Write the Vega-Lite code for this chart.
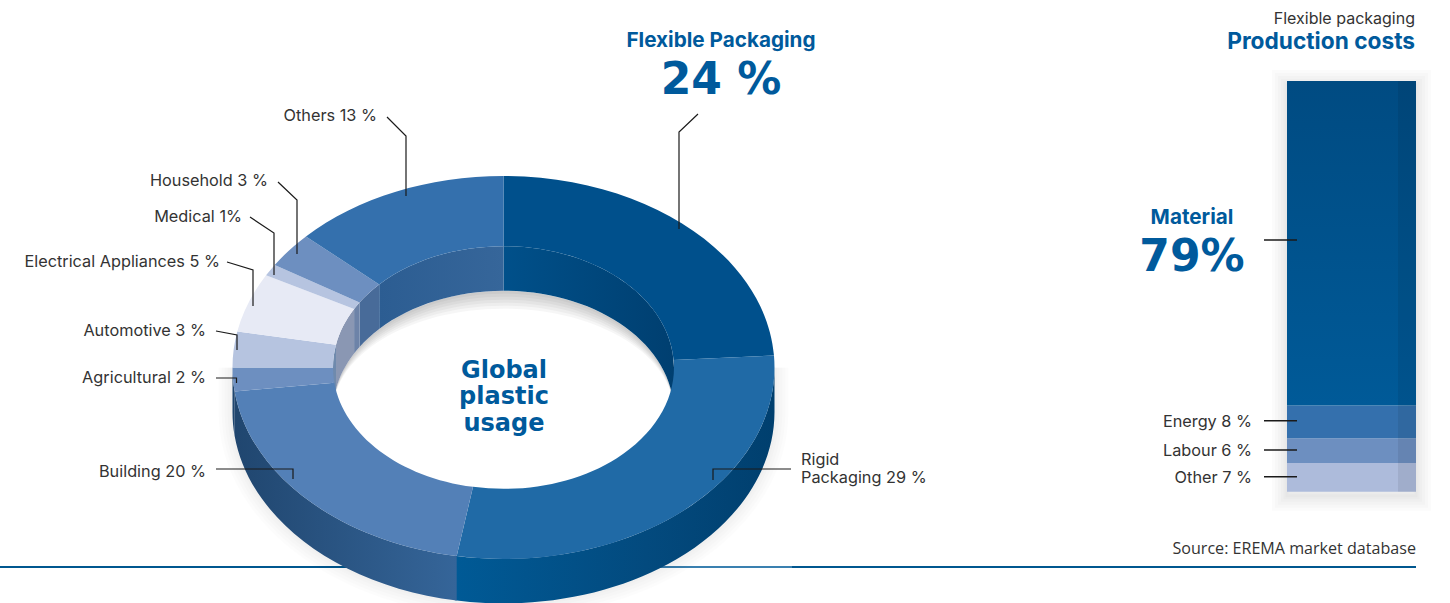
{
"$schema":"https://vega.github.io/schema/vega-lite/v6.json",
"width":1450,"height":603,"padding":0,"autosize":{"type":"none"},"background":"white",
"config":{"view":{"stroke":null},"axis":{"disable":true}},
"resolve":{"scale":{"y":"independent","color":"independent"}},
"layer":[
{"layer":[
 {"data":{"values":[{"w":30},{"w":24},{"w":18},{"w":12},{"w":7},{"w":3}]},"mark":{"type":"rect","fill":null,"stroke":"#000","strokeOpacity":0.014},"encoding":{"x":{"datum":1287,"type":"quantitative","scale":{"domain":[0,1450]}},"x2":{"datum":1416},"y":{"datum":-1,"type":"quantitative","scale":{"domain":[-27.1,119.72]}},"y2":{"datum":99},"strokeWidth":{"field":"w","type":"quantitative","scale":null}}},
 {"data":{"values":[{"item":"Other","value":7,"rank":1},{"item":"Labour","value":6,"rank":2},{"item":"Energy","value":8,"rank":3},{"item":"Material","value":79,"rank":4}]},
  "transform":[{"stack":"value","sort":[{"field":"rank","order":"ascending"}],"as":["v0","v1"]}],
  "mark":{"type":"rect"},"encoding":{
   "x":{"datum":1287,"type":"quantitative","scale":{"domain":[0,1450]}},"x2":{"datum":1416},
   "y":{"field":"v0","type":"quantitative","scale":{"domain":[-27.1,119.72]}},"y2":{"field":"v1"},
   "color":{"field":"item","type":"nominal","legend":null,"scale":{"domain":["Material","Energy","Labour","Other"],"range":[{"signal":"{gradient:'linear',x1:0,y1:0,x2:0,y2:1,stops:[{offset:0,color:'#004b82'},{offset:1,color:'#005a98'}]}"},"#3470ad","#6d8fc0","#adbbdb"]}}}},
 {"data":{"values":[{"band":"side"}]},"mark":{"type":"rect","color":"#000","opacity":0.07},"encoding":{"x":{"datum":1398,"type":"quantitative","scale":{"domain":[0,1450]}},"x2":{"datum":1416},"y":{"datum":0,"type":"quantitative","scale":{"domain":[-27.1,119.72]}},"y2":{"datum":100}}}
 ]},
{"layer":[
 {"data":{"values":[{"x":0,"x2":660},{"x":792,"x2":1416}]},"mark":{"type":"rule","color":"#00578f","strokeWidth":2},"encoding":{"x":{"field":"x","type":"quantitative","scale":{"domain":[0,1450]}},"x2":{"field":"x2"},"y":{"datum":567,"type":"quantitative","scale":{"domain":[603,0]}}}},
 {"data":{"values":[{"x":660,"x2":792}]},"mark":{"type":"rule","color":"#3a80b0","strokeWidth":2},"encoding":{"x":{"field":"x","type":"quantitative","scale":{"domain":[0,1450]}},"x2":{"field":"x2"},"y":{"datum":567,"type":"quantitative","scale":{"domain":[603,0]}}}},
 {"data":{"values":[{"w":28},{"w":22},{"w":16},{"w":10},{"w":5}]},"mark":{"type":"point","size":4,"opacity":1,"filled":false,"fill":null,"stroke":"#000","strokeOpacity":0.012,"shape":"M 271 0 A 271 191.5 0 0 1 -271 0 L -271 44.5 A 271 191.5 0 0 0 271 44.5 Z"},"encoding":{"x":{"datum":503.5,"type":"quantitative","scale":{"domain":[0,1450]}},"y":{"datum":367.5,"type":"quantitative","scale":{"domain":[603,0]}},"strokeWidth":{"field":"w","type":"quantitative","scale":null}}},
 {"data":{"values":[{"shadow":"hole"}]},"mark":{"type":"point","size":4,"opacity":0.035,"filled":true,"color":"#000","shape":"M -170.5 44.5 A 170.5 121.3 0 0 1 170.5 44.5 A 170.5 103.3 0 0 0 -170.5 44.5 Z"},"encoding":{"x":{"datum":503.5,"type":"quantitative","scale":{"domain":[0,1450]}},"y":{"datum":367.5,"type":"quantitative","scale":{"domain":[603,0]}}}},
 {"data":{"values":[{"shadow":"hole"}]},"mark":{"type":"point","size":4,"opacity":0.035,"filled":true,"color":"#000","shape":"M -170.5 44.5 A 170.5 121.3 0 0 1 170.5 44.5 A 170.5 106.3 0 0 0 -170.5 44.5 Z"},"encoding":{"x":{"datum":503.5,"type":"quantitative","scale":{"domain":[0,1450]}},"y":{"datum":367.5,"type":"quantitative","scale":{"domain":[603,0]}}}},
 {"data":{"values":[{"shadow":"hole"}]},"mark":{"type":"point","size":4,"opacity":0.035,"filled":true,"color":"#000","shape":"M -170.5 44.5 A 170.5 121.3 0 0 1 170.5 44.5 A 170.5 109.3 0 0 0 -170.5 44.5 Z"},"encoding":{"x":{"datum":503.5,"type":"quantitative","scale":{"domain":[0,1450]}},"y":{"datum":367.5,"type":"quantitative","scale":{"domain":[603,0]}}}},
 {"data":{"values":[{"shadow":"hole"}]},"mark":{"type":"point","size":4,"opacity":0.035,"filled":true,"color":"#000","shape":"M -170.5 44.5 A 170.5 121.3 0 0 1 170.5 44.5 A 170.5 112.3 0 0 0 -170.5 44.5 Z"},"encoding":{"x":{"datum":503.5,"type":"quantitative","scale":{"domain":[0,1450]}},"y":{"datum":367.5,"type":"quantitative","scale":{"domain":[603,0]}}}},
 {"data":{"values":[{"shadow":"hole"}]},"mark":{"type":"point","size":4,"opacity":0.035,"filled":true,"color":"#000","shape":"M -170.5 44.5 A 170.5 121.3 0 0 1 170.5 44.5 A 170.5 115.3 0 0 0 -170.5 44.5 Z"},"encoding":{"x":{"datum":503.5,"type":"quantitative","scale":{"domain":[0,1450]}},"y":{"datum":367.5,"type":"quantitative","scale":{"domain":[603,0]}}}},
 {"data":{"values":[{"shadow":"hole"}]},"mark":{"type":"point","size":4,"opacity":0.035,"filled":true,"color":"#000","shape":"M -170.5 44.5 A 170.5 121.3 0 0 1 170.5 44.5 A 170.5 118.3 0 0 0 -170.5 44.5 Z"},"encoding":{"x":{"datum":503.5,"type":"quantitative","scale":{"domain":[0,1450]}},"y":{"datum":367.5,"type":"quantitative","scale":{"domain":[603,0]}}}},
 {"data":{"values":[
  {"part":"Rigid outer wall","segment":"Rigid Packaging","share":29},
  {"part":"Building outer wall","segment":"Building","share":20},
  {"part":"Agricultural outer wall","segment":"Agricultural","share":2},
  {"part":"Flexible inner wall","segment":"Flexible Packaging","share":24},
  {"part":"Others inner wall","segment":"Others","share":13},
  {"part":"Household inner wall","segment":"Household","share":3},
  {"part":"Medical inner wall","segment":"Medical","share":1},
  {"part":"Electrical inner wall","segment":"Electrical Appliances","share":5},
  {"part":"Automotive inner wall","segment":"Automotive","share":3},
  {"part":"Flexible top","segment":"Flexible Packaging","share":24},
  {"part":"Rigid top","segment":"Rigid Packaging","share":29},
  {"part":"Building top","segment":"Building","share":20},
  {"part":"Agricultural top","segment":"Agricultural","share":2},
  {"part":"Automotive top","segment":"Automotive","share":3},
  {"part":"Electrical top","segment":"Electrical Appliances","share":5},
  {"part":"Medical top","segment":"Medical","share":1},
  {"part":"Household top","segment":"Household","share":3},
  {"part":"Others top","segment":"Others","share":13}
 ]},
 "mark":{"type":"point","size":4,"filled":true,"opacity":1},
 "encoding":{
  "x":{"datum":503.5,"type":"quantitative","scale":{"domain":[0,1450]}},
  "y":{"datum":367.5,"type":"quantitative","scale":{"domain":[603,0]}},
  "shape":{"field":"part","type":"nominal","legend":null,"scale":{
   "domain":["Rigid outer wall","Building outer wall","Agricultural outer wall","Flexible inner wall","Others inner wall","Household inner wall","Medical inner wall","Electrical inner wall","Automotive inner wall","Flexible top","Rigid top","Building top","Agricultural top","Automotive top","Electrical top","Medical top","Household top","Others top"],
   "range":[
    "M 271 0 A 271 191.5 0 0 1 -48.8 188.3 L -48.8 232.8 A 271 191.5 0 0 0 271 44.5 Z",
    "M -46.8 188.6 A 271 191.5 0 0 1 -268.86 24 L -268.86 68.5 A 271 191.5 0 0 0 -46.8 233.1 Z",
    "M -268.86 24 A 271 191.5 0 0 1 -271 0 L -271 44.5 A 271 191.5 0 0 0 -268.86 68.5 Z",
    "M 0 -121.3 A 170.5 121.3 0 0 1 170.5 0 L 170.5 44.5 A 170.5 121.3 0 0 0 0 -76.8 Z",
    "M -124.29 -83.04 A 170.5 121.3 0 0 1 0 -121.3 L 0 -76.8 A 170.5 121.3 0 0 0 -124.29 -38.54 Z",
    "M -143.96 -65 A 170.5 121.3 0 0 1 -124.29 -83.04 L -124.29 -38.54 A 170.5 121.3 0 0 0 -143.96 -20.5 Z",
    "M -149.41 -58.44 A 170.5 121.3 0 0 1 -143.96 -65 L -143.96 -20.5 A 170.5 121.3 0 0 0 -149.41 -13.94 Z",
    "M -167.48 -22.73 A 170.5 121.3 0 0 1 -149.41 -58.44 L -149.41 -13.94 A 170.5 121.3 0 0 0 -167.48 21.77 Z",
    "M -170.5 0 A 170.5 121.3 0 0 1 -167.48 -22.73 L -167.48 21.77 A 170.5 121.3 0 0 0 -170.5 44.5 Z",
    "M 0 -191.5 A 271 191.5 0 0 1 270.47 -12.02 L 170.16 -7.62 A 170.5 121.3 0 0 0 0 -121.3 Z",
    "M 270.47 -12.02 A 271 191.5 0 0 1 -46.8 188.6 L -30.5 119.35 A 170.5 121.3 0 0 0 170.16 -7.62 Z",
    "M -46.8 188.6 A 271 191.5 0 0 1 -268.86 24 L -169.15 15.2 A 170.5 121.3 0 0 0 -30.5 119.35 Z",
    "M -268.86 24 A 271 191.5 0 0 1 -271 0 L -170.5 0 A 170.5 121.3 0 0 0 -169.15 15.2 Z",
    "M -271 0 A 271 191.5 0 0 1 -266.2 -35.88 L -167.48 -22.73 A 170.5 121.3 0 0 0 -170.5 0 Z",
    "M -266.2 -35.88 A 271 191.5 0 0 1 -237.48 -92.26 L -149.41 -58.44 A 170.5 121.3 0 0 0 -167.48 -22.73 Z",
    "M -237.48 -92.26 A 271 191.5 0 0 1 -228.81 -102.61 L -143.96 -65 A 170.5 121.3 0 0 0 -149.41 -58.44 Z",
    "M -228.81 -102.61 A 271 191.5 0 0 1 -197.55 -131.09 L -124.29 -83.04 A 170.5 121.3 0 0 0 -143.96 -65 Z",
    "M -197.55 -131.09 A 271 191.5 0 0 1 0 -191.5 L 0 -121.3 A 170.5 121.3 0 0 0 -124.29 -83.04 Z"
   ]}},
  "color":{"field":"part","type":"nominal","legend":null,"scale":{
   "domain":["Rigid outer wall","Building outer wall","Agricultural outer wall","Flexible inner wall","Others inner wall","Household inner wall","Medical inner wall","Electrical inner wall","Automotive inner wall","Flexible top","Rigid top","Building top","Agricultural top","Automotive top","Electrical top","Medical top","Household top","Others top"],
   "range":[
    {"signal":"{gradient:'linear',x1:0,y1:0,x2:1,y2:0,stops:[{offset:0,color:'#005a96'},{offset:0.6,color:'#034a7e'},{offset:1,color:'#003f6e'}]}"},
    {"signal":"{gradient:'linear',x1:0,y1:0,x2:1,y2:0,stops:[{offset:0,color:'#20466f'},{offset:1,color:'#356599'}]}"},
    "#1f4670",
    {"signal":"{gradient:'linear',x1:0,y1:0,x2:1,y2:0,stops:[{offset:0,color:'#00508a'},{offset:1,color:'#003f70'}]}"},
    {"signal":"{gradient:'linear',x1:0,y1:0,x2:1,y2:0,stops:[{offset:0,color:'#2c5d92'},{offset:1,color:'#36669a'}]}"},
    "#486b99","#6d83a8","#8a97b3","#6f8aad",
    "#00508c","#206aa6","#5380b7","#6d8fc0","#b6c4e0","#e7eaf5","#b6c4e0","#6d8fc0","#3470ad"
   ]}}
 }},
 {"data":{"values":[
  {"leader":"Others","i":1,"x":387,"y":117},{"leader":"Others","i":2,"x":406,"y":136},{"leader":"Others","i":3,"x":406,"y":196},
  {"leader":"Household","i":1,"x":278,"y":182},{"leader":"Household","i":2,"x":297,"y":200},{"leader":"Household","i":3,"x":297,"y":254},
  {"leader":"Medical","i":1,"x":250,"y":217},{"leader":"Medical","i":2,"x":274,"y":233},{"leader":"Medical","i":3,"x":274,"y":275},
  {"leader":"Electrical","i":1,"x":227,"y":262},{"leader":"Electrical","i":2,"x":253,"y":270},{"leader":"Electrical","i":3,"x":253,"y":306},
  {"leader":"Automotive","i":1,"x":216,"y":331},{"leader":"Automotive","i":2,"x":237,"y":335},{"leader":"Automotive","i":3,"x":237,"y":350},
  {"leader":"Agricultural","i":1,"x":216,"y":378},{"leader":"Agricultural","i":2,"x":236.5,"y":378},{"leader":"Agricultural","i":3,"x":236.5,"y":383},
  {"leader":"Building","i":1,"x":216,"y":469},{"leader":"Building","i":2,"x":293,"y":469},{"leader":"Building","i":3,"x":293,"y":479},
  {"leader":"Rigid","i":1,"x":791,"y":469},{"leader":"Rigid","i":2,"x":713,"y":469},{"leader":"Rigid","i":3,"x":713,"y":480},
  {"leader":"Flexible","i":1,"x":698,"y":114},{"leader":"Flexible","i":2,"x":679,"y":132},{"leader":"Flexible","i":3,"x":679,"y":229}
 ]},
 "mark":{"type":"line","color":"#1a1a1a","strokeWidth":1.2},
 "encoding":{"x":{"field":"x","type":"quantitative","scale":{"domain":[0,1450]}},"y":{"field":"y","type":"quantitative","scale":{"domain":[603,0]}},"detail":{"field":"leader"},"order":{"field":"i"}}},
 {"data":{"values":[{"y":240},{"y":420.7},{"y":450},{"y":476.7}]},"mark":{"type":"rule","color":"#1a1a1a","strokeWidth":1.6},
 "encoding":{"x":{"datum":1264,"type":"quantitative","scale":{"domain":[0,1450]}},"x2":{"datum":1297},"y":{"field":"y","type":"quantitative","scale":{"domain":[603,0]}}}},
 {"data":{"values":[
  {"label":"Others 13 %","x":377,"y":116},{"label":"Household 3 %","x":268,"y":181},{"label":"Medical 1%","x":242,"y":217},
  {"label":"Electrical Appliances 5 %","x":220,"y":262},{"label":"Automotive 3 %","x":206,"y":331},{"label":"Agricultural 2 %","x":206,"y":378},
  {"label":"Building 20 %","x":206,"y":472},{"label":"Energy 8 %","x":1252,"y":422},{"label":"Labour 6 %","x":1252,"y":451},{"label":"Other 7 %","x":1252,"y":478}
 ]},
 "mark":{"type":"text","align":"right","baseline":"middle","font":"Inter","fontSize":16.3,"color":"#333333"},
 "encoding":{"x":{"field":"x","type":"quantitative","scale":{"domain":[0,1450]}},"y":{"field":"y","type":"quantitative","scale":{"domain":[603,0]}},"text":{"field":"label"}}},
 {"data":{"values":[{"label":"Rigid","x":801,"y":460},{"label":"Packaging 29 %","x":801,"y":478}]},
 "mark":{"type":"text","align":"left","baseline":"middle","font":"Inter","fontSize":16.3,"color":"#333333"},
 "encoding":{"x":{"field":"x","type":"quantitative","scale":{"domain":[0,1450]}},"y":{"field":"y","type":"quantitative","scale":{"domain":[603,0]}},"text":{"field":"label"}}},
 {"data":{"values":[{"label":"Flexible packaging","x":1415,"y":19}]},
 "mark":{"type":"text","align":"right","baseline":"middle","font":"Inter","fontSize":16,"color":"#333333"},
 "encoding":{"x":{"field":"x","type":"quantitative","scale":{"domain":[0,1450]}},"y":{"field":"y","type":"quantitative","scale":{"domain":[603,0]}},"text":{"field":"label"}}},
 {"data":{"values":[{"label":"Source: EREMA market database","x":1416,"y":549}]},
 "mark":{"type":"text","align":"right","baseline":"middle","font":"Open Sans","fontSize":16.1,"color":"#333333"},
 "encoding":{"x":{"field":"x","type":"quantitative","scale":{"domain":[0,1450]}},"y":{"field":"y","type":"quantitative","scale":{"domain":[603,0]}},"text":{"field":"label"}}},
 {"data":{"values":[{"label":"Production costs","x":1415,"y":42}]},
 "mark":{"type":"text","align":"right","baseline":"middle","font":"Inter","fontWeight":"bold","fontSize":22.7,"color":"#005a9c"},
 "encoding":{"x":{"field":"x","type":"quantitative","scale":{"domain":[0,1450]}},"y":{"field":"y","type":"quantitative","scale":{"domain":[603,0]}},"text":{"field":"label"}}},
 {"data":{"values":[{"label":"Flexible Packaging","x":721,"y":41},{"label":"Material","x":1192,"y":218}]},
 "mark":{"type":"text","align":"center","baseline":"middle","font":"Inter","fontWeight":"bold","fontSize":20.7,"color":"#005a9c"},
 "encoding":{"x":{"field":"x","type":"quantitative","scale":{"domain":[0,1450]}},"y":{"field":"y","type":"quantitative","scale":{"domain":[603,0]}},"text":{"field":"label"}}},
 {"data":{"values":[{"label":"24 %","x":721,"y":81},{"label":"79%","x":1192,"y":258}]},
 "mark":{"type":"text","align":"center","baseline":"middle","font":"DejaVu Sans","fontWeight":"bold","fontSize":44,"color":"#005a9c"},
 "encoding":{"x":{"field":"x","type":"quantitative","scale":{"domain":[0,1450]}},"y":{"field":"y","type":"quantitative","scale":{"domain":[603,0]}},"text":{"field":"label"}}},
 {"data":{"values":[{"label":"Global","x":504,"y":371},{"label":"plastic","x":504,"y":397},{"label":"usage","x":504,"y":424}]},
 "mark":{"type":"text","align":"center","baseline":"middle","font":"DejaVu Sans","fontWeight":"bold","fontSize":24,"color":"#005a9c"},
 "encoding":{"x":{"field":"x","type":"quantitative","scale":{"domain":[0,1450]}},"y":{"field":"y","type":"quantitative","scale":{"domain":[603,0]}},"text":{"field":"label"}}}
]}
]}
